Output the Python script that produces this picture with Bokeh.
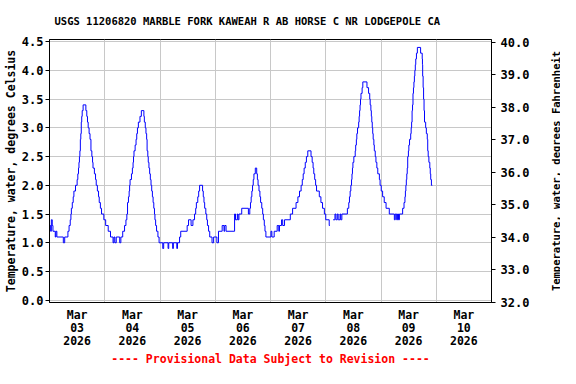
import math
from bokeh.plotting import figure
from bokeh.layouts import row
from bokeh.models import Range1d, LinearAxis, FixedTicker, Title, NumeralTickFormatter
from bokeh.core.properties import value
from bokeh.embed import file_html
from bokeh.resources import INLINE

# ---------------- data ----------------
title_text = "USGS 11206820 MARBLE FORK KAWEAH R AB HORSE C NR LODGEPOLE CA"
footer_text = "---- Provisional Data Subject to Revision ----"
left_label = "Temperature, water, degrees Celsius"
right_label = "Temperature, water, degrees Fahrenheit"

day_labels = ["Mar\n03\n2026", "Mar\n04\n2026", "Mar\n05\n2026", "Mar\n06\n2026",
              "Mar\n07\n2026", "Mar\n08\n2026", "Mar\n09\n2026", "Mar\n10\n2026"]
day_label_hours = [12, 36, 60, 84, 108, 132, 156, 180]   # noon of each day (hours from Mar 03 00:00)
midnight_hours = [24, 48, 72, 96, 120, 144, 168]
celsius_ticks = [0.0, 0.5, 1.0, 1.5, 2.0, 2.5, 3.0, 3.5, 4.0, 4.5]
fahrenheit_ticks = [32, 33, 34, 35, 36, 37, 38, 39, 40]

# (hours since Mar 03 00:00, water temperature degC) -- value holds until next change
segment1 = [(0, 1.3), (0.5, 1.2), (0.8, 1.4), (1.2, 1.3), (1.5, 1.2), (2.5, 1.1), (2.8, 1.2), (3.2, 1.1),
            (6.0, 1.0), (6.6, 1.1), (8.0, 1.2), (8.5, 1.3), (9.0, 1.4), (9.3, 1.5), (9.5, 1.6), (9.9, 1.7),
            (10.3, 1.8), (10.6, 1.9), (11.3, 2.0), (12.0, 2.1), (12.3, 2.2), (12.6, 2.3), (12.8, 2.4),
            (13.0, 2.5), (13.2, 2.6), (13.4, 2.8), (13.6, 2.9), (13.8, 3.1), (14.0, 3.2), (14.2, 3.3),
            (14.6, 3.4), (15.8, 3.3), (16.2, 3.2), (16.5, 3.1), (16.8, 3.0), (17.2, 2.9), (17.6, 2.8),
            (18.0, 2.6), (18.4, 2.5), (18.7, 2.4), (18.9, 2.3), (19.5, 2.2), (20.0, 2.1), (20.3, 2.0),
            (20.8, 1.9), (21.3, 1.8), (21.6, 1.7), (22.1, 1.6), (22.6, 1.5), (23.6, 1.4), (24.4, 1.3),
            (25.5, 1.2), (26.5, 1.1), (27.6, 1.0), (28.0, 1.1), (28.4, 1.0), (29.0, 1.1), (30.5, 1.0),
            (31.0, 1.1), (31.8, 1.2), (32.6, 1.3), (33.2, 1.4), (33.6, 1.5), (33.9, 1.7), (34.3, 1.8),
            (34.6, 1.9), (34.8, 2.0), (35.0, 2.1), (35.6, 2.2), (36.0, 2.3), (36.3, 2.4), (36.5, 2.5),
            (36.7, 2.6), (37.2, 2.7), (37.6, 2.8), (37.9, 2.9), (38.2, 3.0), (38.6, 3.1), (39.3, 3.2),
            (39.9, 3.3), (41.0, 3.2), (41.2, 3.1), (41.6, 3.0), (41.9, 2.9), (42.2, 2.8), (42.4, 2.6),
            (42.7, 2.5), (42.9, 2.4), (43.2, 2.3), (43.5, 2.2), (43.8, 2.1), (44.1, 2.0), (44.4, 1.9),
            (44.7, 1.8), (45.0, 1.7), (45.3, 1.6), (45.6, 1.5), (45.8, 1.4), (46.1, 1.3), (46.5, 1.2),
            (47.1, 1.1), (47.6, 1.0), (49.2, 0.9), (49.6, 1.0), (51.5, 0.9), (51.8, 1.0), (53.5, 0.9),
            (53.8, 1.0), (55.3, 0.9), (55.6, 1.0), (56.5, 1.1), (57.0, 1.2), (59.8, 1.3), (60.4, 1.4),
            (61.5, 1.3), (62.3, 1.4), (63.0, 1.5), (63.5, 1.6), (63.8, 1.7), (64.4, 1.8), (64.8, 1.9),
            (65.2, 2.0), (66.5, 1.9), (66.8, 1.8), (67.1, 1.7), (67.4, 1.6), (67.9, 1.5), (68.3, 1.4),
            (68.6, 1.3), (69.1, 1.2), (69.6, 1.1), (70.6, 1.0), (71.3, 1.1), (72.7, 1.0), (73.4, 1.2),
            (75.0, 1.3), (75.8, 1.2), (76.1, 1.3), (76.7, 1.2), (80.4, 1.5), (80.8, 1.4), (81.6, 1.5),
            (81.9, 1.4), (82.3, 1.5), (83.5, 1.6), (86.4, 1.5), (87.0, 1.6), (87.3, 1.7), (87.6, 1.8),
            (87.9, 1.9), (88.2, 2.0), (88.5, 2.1), (88.8, 2.2), (89.4, 2.3), (90.0, 2.2), (90.3, 2.1),
            (90.6, 2.0), (91.0, 1.9), (91.4, 1.8), (91.7, 1.7), (92.2, 1.6), (92.6, 1.5), (92.9, 1.4),
            (93.3, 1.3), (93.6, 1.2), (94.0, 1.1), (96.2, 1.2), (96.6, 1.1), (97.6, 1.2), (98.9, 1.3),
            (99.6, 1.2), (99.9, 1.3), (100.8, 1.4), (101.3, 1.3), (102.1, 1.4), (104.6, 1.5), (105.6, 1.6),
            (107.1, 1.7), (107.9, 1.8), (108.6, 1.9), (109.3, 2.0), (109.8, 2.1), (110.2, 2.2), (110.6, 2.3),
            (111.1, 2.4), (111.6, 2.5), (112.2, 2.6), (113.6, 2.5), (114.1, 2.4), (114.5, 2.3), (114.8, 2.2),
            (115.2, 2.1), (115.6, 2.0), (116.0, 1.9), (117.2, 1.8), (117.9, 1.7), (118.6, 1.6), (119.4, 1.5),
            (120.0, 1.4), (121.5, 1.3), (121.8, 1.3)]

segment2 = [(123.2, 1.4), (124.0, 1.5), (124.4, 1.4), (125.0, 1.5), (125.4, 1.4), (126.2, 1.5), (126.5, 1.4),
            (127.0, 1.5), (129.4, 1.6), (130.0, 1.7), (130.3, 1.8), (130.6, 1.9), (130.9, 2.0), (131.2, 2.1),
            (131.4, 2.2), (131.6, 2.3), (131.8, 2.4), (132.2, 2.5), (132.8, 2.6), (133.0, 2.7), (133.3, 2.8),
            (133.5, 2.9), (133.8, 3.0), (134.3, 3.1), (134.5, 3.2), (134.7, 3.3), (134.9, 3.4), (135.1, 3.5),
            (135.3, 3.6), (135.8, 3.7), (136.1, 3.8), (137.9, 3.7), (138.6, 3.6), (139.1, 3.5), (139.3, 3.4),
            (139.6, 3.3), (139.8, 3.2), (140.0, 3.1), (140.2, 3.0), (140.4, 2.9), (140.6, 2.8), (140.9, 2.7),
            (141.1, 2.6), (141.5, 2.5), (141.8, 2.4), (142.2, 2.3), (142.6, 2.2), (143.3, 2.1), (143.6, 2.0),
            (144.1, 1.9), (144.7, 1.8), (145.4, 1.7), (146.2, 1.6), (147.6, 1.5), (149.8, 1.4), (150.2, 1.5),
            (150.8, 1.4), (151.2, 1.5), (151.6, 1.4), (152.0, 1.5), (153.4, 1.6), (154.0, 1.7), (154.4, 1.8),
            (154.6, 1.9), (154.8, 2.0), (155.0, 2.1), (155.2, 2.2), (155.4, 2.3), (155.6, 2.5), (155.9, 2.6),
            (156.1, 2.7), (156.4, 2.8), (156.9, 2.9), (157.1, 3.0), (157.3, 3.1), (157.5, 3.3), (157.7, 3.4),
            (157.9, 3.6), (158.1, 3.7), (158.3, 3.8), (158.5, 3.9), (158.7, 4.0), (158.9, 4.1), (159.1, 4.2),
            (159.4, 4.3), (159.8, 4.4), (161.2, 4.3), (161.9, 4.2), (162.0, 4.1), (162.1, 3.9), (162.3, 3.7),
            (162.5, 3.5), (162.7, 3.3), (162.9, 3.1), (163.4, 3.0), (163.7, 2.9), (164.1, 2.8), (164.3, 2.6),
            (164.5, 2.5), (164.8, 2.4), (165.2, 2.3), (165.4, 2.2), (165.6, 2.1), (165.9, 2.0), (166.3, 2.0)]

# ---------------- styling ----------------
FONT = "DejaVu Sans Mono"
GRID = "#c8c8c8"
TOTAL_W, TOTAL_H = 560, 368
LABEL_W = 22          # narrow strip on the far right holding the Fahrenheit axis title

p = figure(width=TOTAL_W - LABEL_W, height=TOTAL_H, output_backend="svg", toolbar_location=None,
           x_range=Range1d(0, 192), y_range=Range1d(-0.04, 4.538),
           min_border_left=44, min_border_right=47, min_border_top=0, min_border_bottom=0)
p.background_fill_color = "white"
p.border_fill_color = "white"
p.outline_line_color = "black"
p.outline_line_width = 1

for seg in (segment1, segment2):
    hrs = [h for h, _ in seg]
    tc = [t for _, t in seg]
    p.step(hrs, tc, mode="after", line_color="#0000ff", line_width=1)

# x axis (footer note is carried as the axis title)
xa = p.xaxis[0]
xa.ticker = FixedTicker(ticks=day_label_hours)
xa.major_label_overrides = {float(h): lab for h, lab in zip(day_label_hours, day_labels)}
xa.major_tick_out = 0
xa.major_tick_in = 0
xa.minor_tick_out = 0
xa.minor_tick_in = 0
xa.major_label_standoff = 5
xa.major_label_text_font = FONT
xa.major_label_text_font_style = "bold"
xa.major_label_text_font_size = "11.5px"
xa.major_label_text_line_height = 0.93
xa.major_label_text_color = "black"
xa.axis_line_color = "black"
xa.axis_label = footer_text
xa.axis_label_standoff = 1
xa.axis_label_text_font = FONT
xa.axis_label_text_font_style = "bold"
xa.axis_label_text_font_size = "11.5px"
xa.axis_label_text_color = "#ff0000"
p.xgrid.ticker = FixedTicker(ticks=midnight_hours)
p.xgrid.grid_line_color = GRID

# left axis
ya = p.yaxis[0]
ya.ticker = FixedTicker(ticks=celsius_ticks)
ya.formatter = NumeralTickFormatter(format="0.0")
ya.major_tick_out = 4
ya.major_tick_in = 0
ya.minor_tick_out = 0
ya.minor_tick_in = 0
ya.major_label_standoff = 2
ya.major_label_text_font = FONT
ya.major_label_text_font_style = "bold"
ya.major_label_text_font_size = "12px"
ya.major_label_text_color = "black"
ya.axis_label = left_label
ya.axis_label_text_font = FONT
ya.axis_label_text_font_style = "bold"
ya.axis_label_text_font_size = "11.5px"
ya.axis_label_text_color = "black"
ya.axis_label_standoff = 1
ya.axis_line_color = "black"
p.ygrid.ticker = FixedTicker(ticks=celsius_ticks)
p.ygrid.grid_line_color = GRID

# right axis (Fahrenheit)
p.extra_y_ranges = {"f": Range1d(32.0, 40.088)}
ra = LinearAxis(y_range_name="f", ticker=FixedTicker(ticks=fahrenheit_ticks),
                formatter=NumeralTickFormatter(format="0.0"))
ra.major_tick_out = 4
ra.major_tick_in = 0
ra.minor_tick_out = 0
ra.minor_tick_in = 0
ra.major_label_standoff = 5
ra.major_label_text_font = FONT
ra.major_label_text_font_style = "bold"
ra.major_label_text_font_size = "12px"
ra.major_label_text_color = "black"
ra.axis_line_color = "black"
p.add_layout(ra, "right")

# main title
p.add_layout(Title(text=title_text, align="left", offset=5, standoff=25,
                   text_font=FONT, text_font_style="bold", text_font_size="10.5px",
                   text_color="black"), "above")

# narrow strip with the Fahrenheit axis title, reading bottom-to-top
q = figure(width=LABEL_W, height=TOTAL_H, output_backend="svg", toolbar_location=None,
           x_axis_type=None, y_axis_type=None, x_range=Range1d(0, 1), y_range=Range1d(0, 1),
           min_border_left=0, min_border_right=0, min_border_top=0, min_border_bottom=0)
q.outline_line_color = None
q.background_fill_color = "white"
q.border_fill_color = "white"
q.text(x=[0.8], y=[0.5], text=[right_label], angle=math.pi / 2,
       text_align="center", text_baseline="middle",
       text_font=value(FONT), text_font_style="bold", text_font_size="10.5px", text_color="black")

layout = row(p, q, spacing=0)
open("out.html", "w").write(file_html(layout, INLINE))
